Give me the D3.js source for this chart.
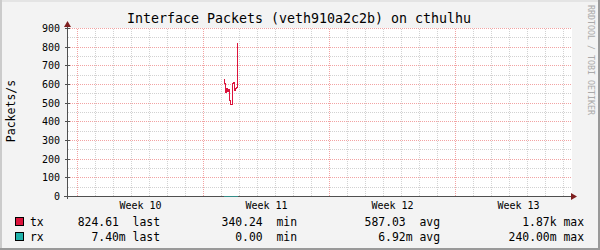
<!DOCTYPE html>
<html>
<head>
<meta charset="utf-8">
<script src="https://cdn.jsdelivr.net/npm/d3@7"></script>
<style>
  body { margin: 0; background: #f3f3f3; }
  text { font-family: "DejaVu Sans Mono", monospace; }
</style>
</head>
<body>
<div id="chart"></div>
<script>
// time window of the graph (4 weeks)
const timeStart = new Date(Date.UTC(2025, 2, 2, 10, 40));
const timeEnd = new Date(Date.UTC(2025, 2, 30, 10, 40));

// samples, one every 80 minutes
const sampleStart = Date.UTC(2025, 2, 11, 2, 40);
const sampleStep = 80 * 60 * 1000;
const txValues = [625, 604, 557, 580, 560, 575, 514, 493, 493, 604, 609, 568, 577, 586, 824.61];
const rxValues = [0.006, 0.009, 0.007, 0.005, 0.008, 0.006, 0.007, 0.009, 0.006, 0.005, 0.008, 0.007, 0.006, 0.007, 0.0074];

const yMajor = [100, 200, 300, 400, 500, 600, 700, 800, 900];
const yMinor = [50, 150, 250, 350, 450, 550, 650, 750, 850];
const yLabels = [0, 100, 200, 300, 400, 500, 600, 700, 800, 900];

// legend
const seriesNames = ['tx', 'rx'];
const seriesColors = ['#DC143C', '#20B2AA'];
const legendLast = ['824.61  last', '7.40m last'];
const legendMin = ['340.24  min', '0.00  min'];
const legendAvg = ['587.03  avg', '6.92m avg'];
const legendMax = ['1.87k max', '240.00m max'];

const width = 600, height = 250;

let svg = d3.select('#chart')
  .append('svg')
  .attr('width', width)
  .attr('height', height);

// background + 3d frame
svg.append('rect').attr('width', width).attr('height', height).attr('fill', '#f3f3f3');
svg.append('rect').attr('x', 0).attr('y', 0).attr('width', width).attr('height', 2).attr('fill', '#e4e4e4');
svg.append('rect').attr('x', 0).attr('y', 0).attr('width', 2).attr('height', height).attr('fill', '#cbcbcb');
svg.append('rect').attr('x', 0).attr('y', height - 2).attr('width', width).attr('height', 2).attr('fill', '#999');
svg.append('rect').attr('x', width - 2).attr('y', 0).attr('width', 2).attr('height', height).attr('fill', '#999');

let x = d3.scaleUtc().domain([timeStart, timeEnd]).range([67.5, 571.5]);
let y = d3.scaleLinear().domain([0, 900]).range([196.5, 28.5]);

// canvas
svg.append('rect')
  .attr('x', 67).attr('y', 28)
  .attr('width', 505).attr('height', 168)
  .attr('fill', '#fff');

let grid = svg.append('g').attr('shape-rendering', 'crispEdges');

let days = d3.utcDay.range(timeStart, timeEnd).filter(d => d.getUTCDay() !== 1);
let weeks = d3.utcMonday.range(timeStart, timeEnd);

grid.selectAll('.vminor').data(days).enter().append('line')
  .attr('x1', d => x(d)).attr('x2', d => x(d))
  .attr('y1', y(900)).attr('y2', y(0))
  .attr('stroke', '#d2d2d2').attr('stroke-dasharray', '1,1');

grid.selectAll('.hminor').data(yMinor).enter().append('line')
  .attr('x1', x(timeStart)).attr('x2', x(timeEnd))
  .attr('y1', d => y(d)).attr('y2', d => y(d))
  .attr('stroke', '#d2d2d2').attr('stroke-dasharray', '1,1');

grid.selectAll('.vmajor').data(weeks).enter().append('line')
  .attr('x1', d => x(d)).attr('x2', d => x(d))
  .attr('y1', y(900)).attr('y2', y(0))
  .attr('stroke', '#f2a3a3').attr('stroke-dasharray', '1,1');

grid.selectAll('.hmajor').data(yMajor).enter().append('line')
  .attr('x1', x(timeStart)).attr('x2', x(timeEnd))
  .attr('y1', d => y(d)).attr('y2', d => y(d))
  .attr('stroke', '#f2a3a3').attr('stroke-dasharray', '1,1');

// data
let txData = txValues.map((v, i) => ({ t: new Date(sampleStart + i * sampleStep), v: v }));
let rxData = rxValues.map((v, i) => ({ t: new Date(sampleStart + i * sampleStep), v: v }));

let line = d3.line()
  .x(d => x(d.t))
  .y(d => y(d.v))
  .curve(d3.curveStepAfter);

svg.append('path')
  .datum(txData)
  .attr('d', line)
  .attr('fill', 'none')
  .attr('stroke', seriesColors[0])
  .attr('stroke-width', 1)
  .attr('shape-rendering', 'crispEdges');

// axes
let axes = svg.append('g').attr('shape-rendering', 'crispEdges');
axes.append('line')
  .attr('x1', 67.5).attr('x2', 67.5).attr('y1', 199).attr('y2', 25)
  .attr('stroke', '#505050');
axes.append('line')
  .attr('x1', 64).attr('x2', 574).attr('y1', y(0)).attr('y2', y(0))
  .attr('stroke', '#505050');
axes.selectAll('.ytick').data(yLabels).enter().append('line')
  .attr('x1', 65).attr('x2', 70)
  .attr('y1', d => y(d)).attr('y2', d => y(d))
  .attr('stroke', '#505050');

svg.append('path')
  .datum(rxData)
  .attr('d', line)
  .attr('fill', 'none')
  .attr('stroke', seriesColors[1])
  .attr('stroke-opacity', 0.6)
  .attr('shape-rendering', 'crispEdges');

// arrows
svg.append('path').attr('d', 'M64,27L67.5,21L71,27Z').attr('fill', '#7f1f1f');
svg.append('path').attr('d', 'M571,193L577,196.5L571,200Z').attr('fill', '#7f1f1f');

// y labels
svg.selectAll('.ylab').data(yLabels).enter().append('text')
  .attr('x', 60)
  .attr('y', d => y(d) + 3.5)
  .attr('text-anchor', 'end')
  .attr('font-size', '10px')
  .text(d => d);

// week labels
svg.selectAll('.xlab').data(weeks).enter().append('text')
  .attr('x', d => x(d3.utcHour.offset(d, 84)))
  .attr('y', 209)
  .attr('text-anchor', 'middle')
  .attr('font-size', '10px')
  .text(d => 'Week ' + d3.utcFormat('%V')(d));

// title
svg.append('text')
  .attr('x', 299).attr('y', 23)
  .attr('text-anchor', 'middle')
  .attr('font-size', '13.3px')
  .text('Interface Packets (veth910a2c2b) on cthulhu');

// unit label
svg.append('text')
  .attr('transform', 'translate(15,111) rotate(-90)')
  .attr('text-anchor', 'middle')
  .attr('font-size', '11.5px')
  .text('Packets/s');

// watermark
svg.append('text')
  .attr('transform', 'translate(588,5) rotate(90)')
  .attr('font-size', '9px')
  .attr('fill', '#aaa')
  .attr('textLength', 110)
  .attr('lengthAdjust', 'spacingAndGlyphs')
  .text('RRDTOOL / TOBI OETIKER');

// legend
let rowY = [226, 240.5];
let legend = svg.selectAll('.leg').data(seriesNames).enter().append('g');
legend.append('rect')
  .attr('x', 15.5).attr('y', (d, i) => rowY[i] - 8.5)
  .attr('width', 8).attr('height', 8)
  .attr('fill', (d, i) => seriesColors[i])
  .attr('stroke', '#000')
  .attr('shape-rendering', 'crispEdges');
legend.append('text')
  .attr('x', 30).attr('y', (d, i) => rowY[i])
  .attr('font-size', '11.4px')
  .text(d => d);

let cols = [[legendLast, 160], [legendMin, 297], [legendAvg, 440], [legendMax, 584]];
cols.forEach(c => {
  legend.append('text')
    .attr('x', c[1]).attr('y', (d, i) => rowY[i])
    .attr('text-anchor', 'end')
    .attr('font-size', '11.4px')
    .attr('xml:space', 'preserve')
    .style('white-space', 'pre')
    .text((d, i) => c[0][i]);
});
</script>
</body>
</html>
